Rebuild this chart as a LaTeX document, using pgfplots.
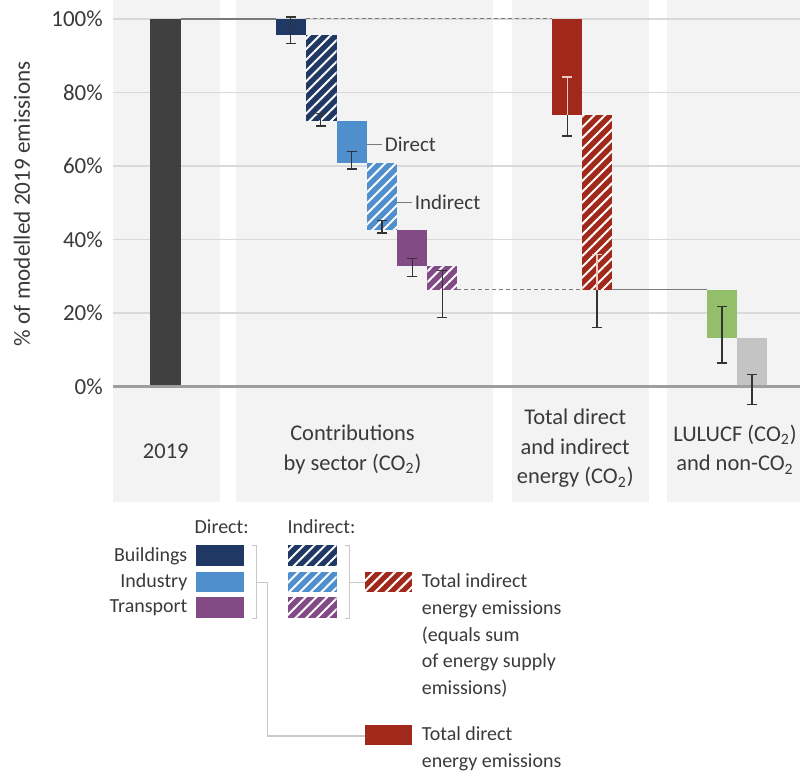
\documentclass[border=0pt]{standalone}
\usepackage{fontspec}
\setmainfont{Carlito}
\usepackage{pgfplots}
\pgfplotsset{compat=1.18}
\usetikzlibrary{patterns.meta}
\definecolor{panel}{HTML}{F3F3F3}
\definecolor{gridc}{HTML}{D9D9D9}
\definecolor{zeroc}{HTML}{9E9E9E}
\definecolor{barnine}{HTML}{404040}
\definecolor{cnavy}{HTML}{203864}
\definecolor{cind}{HTML}{4F8FCE}
\definecolor{cpurp}{HTML}{834B86}
\definecolor{cred}{HTML}{A0291B}
\definecolor{cgreen}{HTML}{93BE6A}
\definecolor{cgray}{HTML}{C4C4C4}
\definecolor{conn}{HTML}{7A7A7A}
\definecolor{errc}{HTML}{333333}
\definecolor{errl}{HTML}{EBC9C2}
\definecolor{txt}{HTML}{3A3A3A}
\definecolor{brk}{HTML}{C8C8C8}
\tikzset{hatch/.style={pattern={Lines[angle=45,distance=3.8pt,line width=1pt]},pattern color=white}}
\pgfplotsset{
  errstyle/.style={draw=none, mark=none,
    error bars/y explicit,
    error bars/error bar style={draw=#1, solid, line width=0.7pt},
    error bars/error mark=-,
    error bars/error mark options={draw=#1, solid, line width=0.7pt, mark size=2.5pt, rotate=90}},
}
\begin{document}
\begin{tikzpicture}
\begin{scope}[x=0.5pt,y=-0.5pt]
\path[use as bounding box] (0,0) rectangle (801,775);
\end{scope}
\begin{axis}[
  at={(56.5pt,0pt)}, anchor=north west,
  scale only axis, width=344pt, height=251.5pt,
  xmin=113, xmax=801, ymin=-31.52, ymax=105.16,
  axis line style={draw=none},
  xtick=\empty,
  ytick={0,20,40,60,80,100},
  yticklabel={\pgfmathprintnumber{\tick}\%},
  major tick length=0pt,
  yticklabel style={font=\fontsize{11.5}{13}\selectfont, text=txt, xshift=-1.5pt},
  /pgf/number format/assume math mode=true,
  clip=false,
]
% panels
\addplot[fill=panel, draw=none] coordinates {(113,-31.52) (220,-31.52) (220,105.16) (113,105.16)};
\addplot[fill=panel, draw=none] coordinates {(236,-31.52) (494,-31.52) (494,105.16) (236,105.16)};
\addplot[fill=panel, draw=none] coordinates {(513,-31.52) (650,-31.52) (650,105.16) (513,105.16)};
\addplot[fill=panel, draw=none] coordinates {(668,-31.52) (801,-31.52) (801,105.16) (668,105.16)};
% grid
\addplot[gridc, line width=0.6pt] coordinates {(113,20) (801,20)};
\addplot[gridc, line width=0.6pt] coordinates {(113,40) (801,40)};
\addplot[gridc, line width=0.6pt] coordinates {(113,60) (801,60)};
\addplot[gridc, line width=0.6pt] coordinates {(113,80) (801,80)};
\addplot[gridc, line width=0.6pt] coordinates {(113,100) (801,100)};
% connectors
\addplot[conn, line width=0.6pt] coordinates {(181,100) (276,100)};
\addplot[conn, line width=0.5pt, dash pattern=on 2pt off 1.5pt] coordinates {(306,100) (553,100)};
\addplot[conn, line width=0.5pt, dash pattern=on 2pt off 1.5pt] coordinates {(458,26.3) (583,26.3)};
\addplot[conn, line width=0.6pt] coordinates {(613,26.3) (708,26.3)};
% bars
\addplot[fill=barnine, draw=none] coordinates {(150,0) (181,0) (181,100) (150,100)};
\addplot[fill=cnavy, draw=none] coordinates {(276,95.5) (306,95.5) (306,100) (276,100)};
\addplot[fill=cnavy, draw=none] coordinates {(306,72.1) (337,72.1) (337,95.5) (306,95.5)};
\addplot[hatch, draw=none] coordinates {(306,72.1) (337,72.1) (337,95.5) (306,95.5)};
\addplot[fill=cind, draw=none] coordinates {(337,60.8) (367,60.8) (367,72.1) (337,72.1)};
\addplot[fill=cind, draw=none] coordinates {(367,42.7) (398,42.7) (398,60.8) (367,60.8)};
\addplot[hatch, draw=none] coordinates {(367,42.7) (398,42.7) (398,60.8) (367,60.8)};
\addplot[fill=cpurp, draw=none] coordinates {(398,32.7) (428,32.7) (428,42.7) (398,42.7)};
\addplot[fill=cpurp, draw=none] coordinates {(428,26.3) (458,26.3) (458,32.7) (428,32.7)};
\addplot[hatch, draw=none] coordinates {(428,26.3) (458,26.3) (458,32.7) (428,32.7)};
\addplot[fill=cred, draw=none] coordinates {(553,73.9) (583,73.9) (583,100) (553,100)};
\addplot[fill=cred, draw=none] coordinates {(583,26.3) (613,26.3) (613,73.9) (583,73.9)};
\addplot[hatch, draw=none] coordinates {(583,26.3) (613,26.3) (613,73.9) (583,73.9)};
\addplot[fill=cgreen, draw=none] coordinates {(708,13.2) (738,13.2) (738,26.3) (708,26.3)};
\addplot[fill=cgray, draw=none] coordinates {(738,0) (768,0) (768,13.2) (738,13.2)};
% zero line
\addplot[zeroc, line width=1.1pt] coordinates {(113,0) (801,0)};
% error bars
\addplot[errstyle=errc, error bars/y dir=both]
  coordinates {(291,96.95) +- (0,3.55) (321,72.55) +- (0,1.65) (352,61.55) +- (0,2.35)
   (382.5,43.5) +- (0,1.7) (413,32.45) +- (0,2.45) (443,25.2) +- (0,6.4)
   (723,14.05) +- (0,7.65) (753,-0.8) +- (0,4.1)};
\addplot[errstyle=errc, error bars/y dir=minus]
  coordinates {(568,73.9) +- (0,5.7) (598,26.3) +- (0,10.2)};
\addplot[errstyle=errl, error bars/y dir=plus]
  coordinates {(568,73.9) +- (0,10.3) (598,26.3) +- (0,9.6)};
\end{axis}
\begin{scope}[x=0.5pt,y=-0.5pt, every node/.style={text=txt, inner sep=0pt}]
% y label
\node[rotate=90, font=\fontsize{11.6}{13}\selectfont] at (22,204) {\% of modelled 2019 emissions};
% annotations
\draw[conn, line width=0.5pt] (367,145) -- (383,145);
\node[anchor=west, font=\fontsize{10.5}{12}\selectfont] at (385,145) {Direct};
\draw[conn, line width=0.5pt] (398,203) -- (413,203);
\node[anchor=west, font=\fontsize{10.5}{12}\selectfont] at (415,203) {Indirect};
% category labels
\begin{scope}[every node/.append style={align=center, font=\fontsize{11.25}{14.8}\selectfont}]
\node at (166,452) {2019};
\node at (353,450) {Contributions\\by sector (CO\textsubscript{2})};
\node at (576,449) {Total direct\\and indirect\\energy (CO\textsubscript{2})};
\node at (736,450) {LULUCF (CO\textsubscript{2})\\and non-CO\textsubscript{2}};
\end{scope}
% legend
\begin{scope}[every node/.append style={font=\fontsize{10}{13.35}\selectfont}]
\node at (222,527) {Direct:};
\node at (322,527) {Indirect:};
\node[anchor=east] at (188,557) {Buildings};
\node[anchor=east] at (188,583) {Industry};
\node[anchor=east] at (188,609) {Transport};
\fill[cnavy] (196,546) rectangle (244,567);
\fill[cind] (196,573) rectangle (244,593);
\fill[cpurp] (196,598) rectangle (244,619);
\fill[cnavy] (288,546) rectangle (337,567);
\fill[hatch] (288,546) rectangle (337,567);
\fill[cind] (288,573) rectangle (337,593);
\fill[hatch] (288,573) rectangle (337,593);
\fill[cpurp] (288,598) rectangle (337,619);
\fill[hatch] (288,598) rectangle (337,619);
\draw[brk, line width=0.6pt] (252,546) -- (257,546) -- (257,619) -- (252,619);
\draw[brk, line width=0.6pt] (257,583) -- (268,583) -- (268,737) -- (365,737);
\draw[brk, line width=0.6pt] (345,546) -- (350,546) -- (350,619) -- (345,619);
\draw[brk, line width=0.6pt] (350,583) -- (365,583);
\fill[cred] (365,573) rectangle (413,593);
\fill[hatch] (365,573) rectangle (413,593);
\fill[cred] (365,726) rectangle (413,746);
\node[anchor=west, align=left] at (422,636.5) {Total indirect\\energy emissions\\(equals sum\\of energy supply\\emissions)};
\node[anchor=west, align=left] at (422,750) {Total direct\\energy emissions};
\end{scope}
\end{scope}
\end{tikzpicture}
\end{document}
